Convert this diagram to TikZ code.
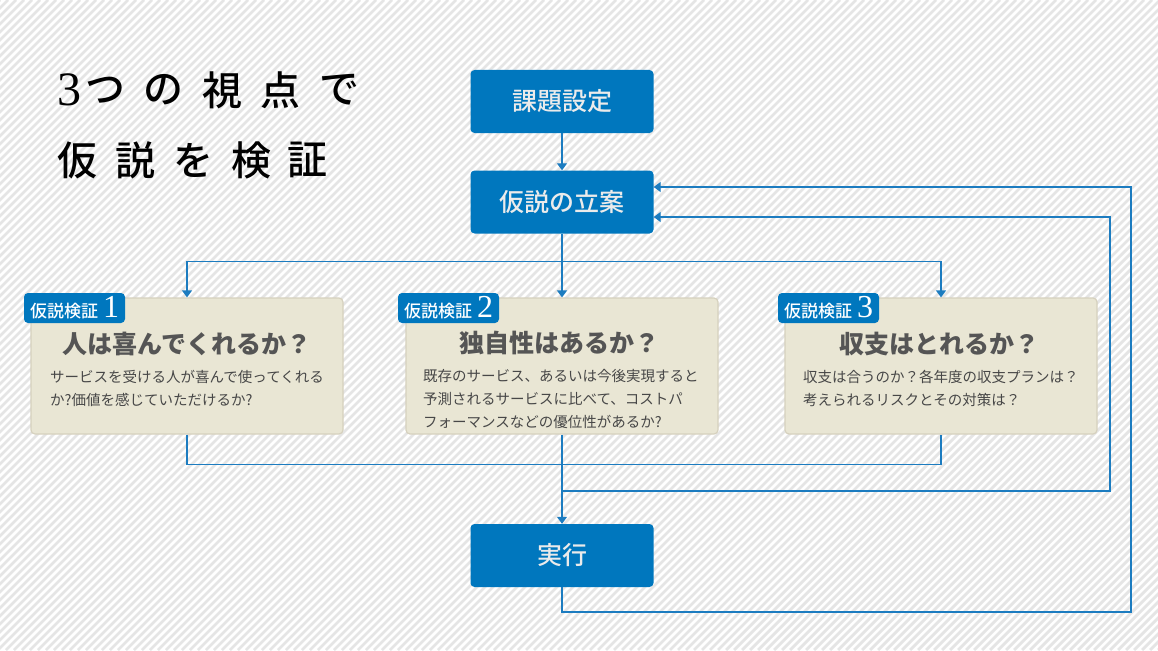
\documentclass[tikz,border=0pt]{standalone}
\usepackage{fontspec}
\setmainfont{Noto Sans CJK JP}
\newfontfamily\medfont{Noto Sans CJK JP Medium}
\newfontfamily\numfont{Liberation Serif}
\usetikzlibrary{positioning,arrows.meta}
\definecolor{flowblue}{RGB}{0,119,190}
\definecolor{linkblue}{RGB}{28,124,192}
\definecolor{cardbeige}{RGB}{233,230,212}
\definecolor{cardedge}{RGB}{214,209,190}
\definecolor{inkgray}{RGB}{85,85,85}
\definecolor{hatchgray}{RGB}{229,229,229}

\begin{document}
\begin{tikzpicture}[
  x=1pt, y=-1pt,
  flow/.style={rectangle, rounded corners=4pt, fill=flowblue, text=white!92!black,
               minimum width=183pt, minimum height=63pt, inner sep=0pt,
               font=\fontsize{25}{28}\selectfont\medfont},
  card/.style={rectangle, rounded corners=4pt, fill=cardbeige, draw=cardedge,
               line width=1.2pt, minimum width=312pt, minimum height=136pt},
  tab/.style={rectangle, rounded corners=4pt, fill=flowblue, text=white,
              minimum width=101pt, minimum height=30pt, inner sep=0pt,
              font=\fontsize{17}{20}\selectfont\medfont},
  head/.style={text=inkgray, inner sep=0pt, font=\fontsize{25}{30}\selectfont\bfseries},
  body/.style={text=black!72, inner sep=0pt, align=left, anchor=north west,
               font=\fontsize{14.5}{23}\selectfont},
  ttl/.style={text=black, inner sep=0pt, font=\fontsize{40}{44}\selectfont\medfont},
  link/.style={linkblue, line width=1.3pt},
  arr/.style={link, -{Triangle[width=10pt,length=7pt]}},
  hatch/.style={hatchgray, line width=2.8pt}
]
\useasboundingbox (0,0) rectangle (1158,650);

%% striped background
\begin{scope}
  \clip (0,0) rectangle (1158,650);
  \fill[white] (0,0) rectangle (1158,650);
  \foreach \k in {-650,-642,...,1160}
    \draw[hatch] (\k,650) -- ++(650,-650);
\end{scope}

%% title
\foreach \ch/\x [count=\i] in {{\numfont\fontsize{48}{48}\selectfont 3}/69,つ/105,の/163,視/222,点/280,で/339}
  \node[ttl] (ta\i) at (\x,90) {\ch};
\foreach \ch/\x [count=\i] in {仮/77,説/135,を/193,検/251,証/307}
  \node[ttl] (tb\i) at (\x,160) {\ch};

%% main flow
\node[flow] (task) at (562,101.5) {課題設定};
\node[flow] (plan) at (562,202) {仮説の立案};
\node[flow] (run) at (562,555.5) {実行};

%% three checks
\node[card] (c1) at (187,366) {};
\node[card] (c2) at (562,366) {};
\node[card] (c3) at (941,366) {};

\node[tab] (t1) at (74.5,308) {仮説検証\hspace{5pt}{\numfont\fontsize{32}{32}\selectfont 1}};
\node[tab] (t2) at (448.5,308) {仮説検証\hspace{5pt}{\numfont\fontsize{32}{32}\selectfont 2}};
\node[tab] (t3) at (828.5,308) {仮説検証\hspace{5pt}{\numfont\fontsize{32}{32}\selectfont 3}};

\node[head] (h1) at (187,344) {人は喜んでくれるか？};
\node[head] (h2) at (559,343) {独自性はあるか？};
\node[head] (h3) at (939,344) {収支はとれるか？};

\node[body] (b1) at (50,370)
  {サービスを受ける人が喜んで使ってくれる\\か?価値を感じていただけるか?};
\node[body] (b2) at (423,369)
  {既存のサービス、あるいは今後実現すると\\予測されるサービスに比べて、コストパ\\フォーマンスなどの優位性があるか?};
\node[body] (b3) at (803,370)
  {収支は合うのか？各年度の収支プランは？\\考えられるリスクとその対策は？};

%% connectors
\draw[arr] (task) -- (plan);
\draw[link] (plan.south) -- ++(0,28) coordinate (split);
\draw[arr] (split) -- (c2.north);
\draw[arr] (split) -| (c1.north);
\draw[arr] (split) -| (c3.north);

\draw[link] (c1.south) -- ++(0,30) coordinate (join) -| (c3.south);
\draw[arr] (c2.south) -- (run.north);

\coordinate (fb) at (562,491);
\coordinate (inner) at (1110,491);
\coordinate (outer) at (1131,612);
\draw[arr] (fb) -- (inner) |- ([yshift=-15pt]plan.east);
\draw[arr] (run.south) |- (outer) |- ([yshift=15pt]plan.east);

\end{tikzpicture}
\end{document}
